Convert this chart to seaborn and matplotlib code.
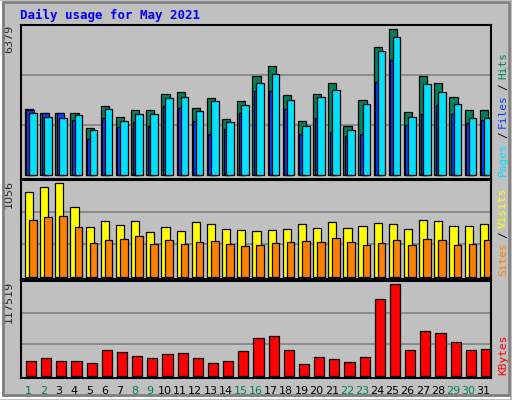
import matplotlib
matplotlib.use("Agg")
import matplotlib.pyplot as plt
import seaborn as sns
from matplotlib.patches import Rectangle

sns.set_style("white")
plt.rcParams['font.family'] = ['DejaVu Sans Mono', 'DejaVu Sans']

days = list(range(1, 32))
hits = [2890,2720,2720,2720,2083,3018,2550,2848,2848,3570,3655,2933,3358,2465,3230,4335,
        4760,3528,2380,3570,4038,2168,3273,5610,6379,2763,4335,4038,3443,2848,2848]
files = [2720,2550,2508,2635,1998,2890,2380,2678,2678,3358,3443,2805,3230,2338,3060,4038,
         4420,3273,2168,3400,3740,1998,3103,5440,6035,2550,3995,3655,3103,2508,2508]
pages = [2848,2720,2720,2423,1573,2508,2125,2338,2168,3018,2933,2380,1785,2040,2720,3698,
         3698,2890,1785,2508,1870,1700,1785,4080,5058,2210,2678,3060,2678,2295,2423]
visits = [948,1004,1056,782,559,626,582,626,504,559,515,615,593,537,526,515,
          526,537,593,548,615,548,571,604,593,537,637,626,571,571,593]
sites = [637,671,682,559,382,415,426,459,371,415,371,393,404,371,348,359,
         382,393,404,393,437,393,359,382,415,359,426,415,359,371,415]
kbytes = [18554,22264,18554,18554,16080,32160,29686,24738,22264,27212,28449,22264,16080,18554,
          30923,48240,50713,33397,14843,23501,21027,17317,23501,97715,117519,33397,56897,54424,
          43292,33397,34633]
weekend = [1,2,8,9,15,16,22,23,29,30]

BG = '#C0C0C0'
fig = plt.figure(figsize=(5.12, 4.0), dpi=100, facecolor=BG)
W, H = 512, 400
def axrect(top, bot):
    return [21/W, 1-bot/H, 470/W, (bot-top)/H]

fig.text(20/W, 1-15/H, "Daily usage for May 2021", color='#0000FF', fontsize=9,
         fontweight='bold', va='center', ha='left')

panels = [
    (axrect(25, 179), [(hits, '#00805C', 0.26, 0.54), (pages, '#0040FF', 0.36, 0.5),
                       (files, '#00E0FF', 0.53, 0.5)], max(hits), "6379",
     [("Pages", '#00E0FF'), ("/", 'black'), ("Files", '#0040FF'), ("/", 'black'), ("Hits", '#00805C')]),
    (axrect(180, 279), [(visits, '#FFFF00', 0.26, 0.54), (sites, '#FF8000', 0.53, 0.5)],
     max(visits), "1056",
     [("Sites", '#FF8000'), ("/", 'black'), ("Visits", '#FFFF00')]),
    (axrect(281, 378), [(kbytes, '#FF0000', 0.33, 0.67)], max(kbytes), "117519",
     [("KBytes", '#FF0000')]),
]

fig.canvas.draw()
renderer = fig.canvas.get_renderer()
for rect, series, mx, lab, rlabel in panels:
    ax = fig.add_axes(rect)
    ax.set_facecolor(BG)
    T = mx * 1.03
    ax.set_ylim(-T * 0.025, T)
    ax.set_xlim(0, 31)
    for g in (T/3, 2*T/3):
        ax.axhline(g, color='#808080', lw=1.2, zorder=0)
    for vals, col, off, w in series:
        ax.bar([d - 1 + off for d in days], vals, width=w, align='edge', color=col,
               edgecolor='black', linewidth=0.9, zorder=2)
    ax.set_xticks([]); ax.set_yticks([])
    for s in ax.spines.values():
        s.set_color('black'); s.set_linewidth(1.5)
    ax.text(-0.015, 1.0, lab, transform=ax.transAxes, rotation=90, ha='right', va='top',
            fontsize=8, family='DejaVu Sans')
    # right label, stacked from bottom using measured extents
    ybot_px = (1 - rect[1]) * H - 3  # pixel from top of figure (bottom of stack)
    x_fig = (491 + 7) / W
    for txt, col in rlabel:
        t = fig.text(x_fig, 1 - ybot_px / H, txt, rotation=90, ha='left', va='bottom',
                     fontsize=8, color=col)
        bb = t.get_window_extent(renderer)
        ybot_px -= bb.height + 4
    last = ax

for d in days:
    last.text(d - 0.5, -0.13, str(d), transform=last.get_xaxis_transform(), ha='center',
              va='center', fontsize=8, family='DejaVu Sans',
              color='#00805C' if d in weekend else 'black')

fig.patches.append(Rectangle((0.002, 0.004), 0.992, 0.992, transform=fig.transFigure,
                             fill=False, edgecolor='white', lw=1.5))
fig.patches.append(Rectangle((0.006, 0.012), 0.988, 0.984, transform=fig.transFigure,
                             fill=False, edgecolor='#808080', lw=2))
fig.savefig("out.png", dpi=100, facecolor=BG)
